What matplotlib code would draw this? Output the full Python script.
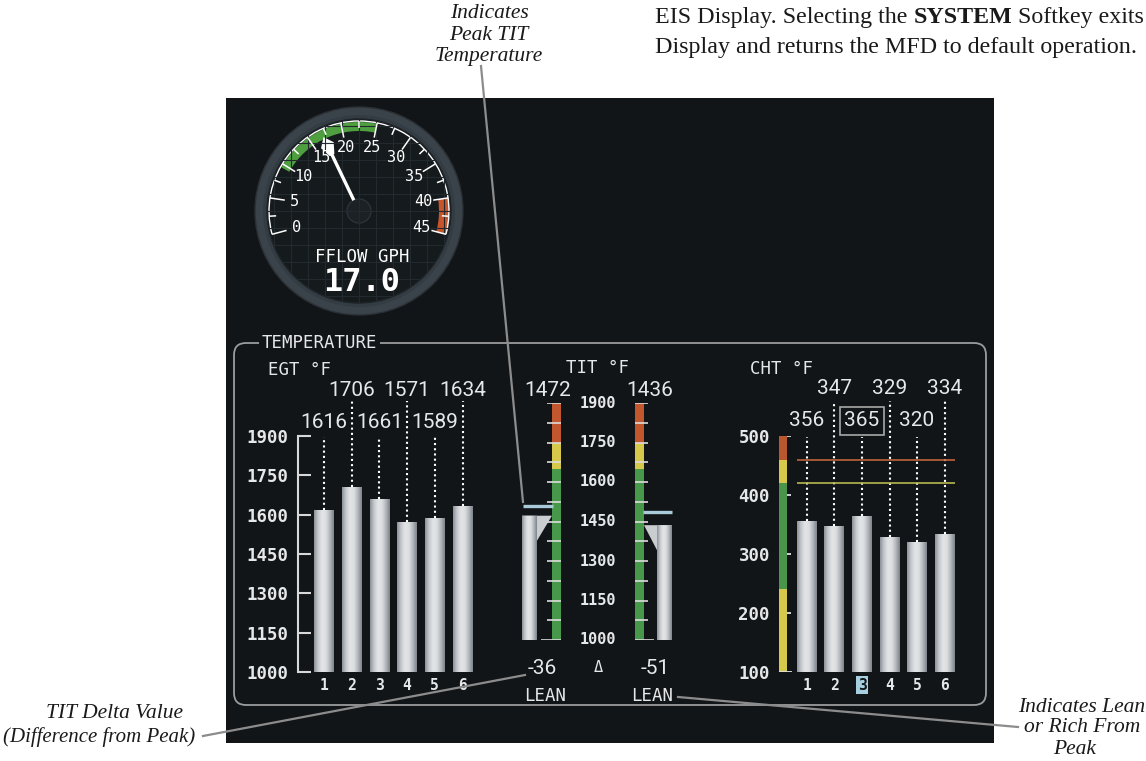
import numpy as np
import matplotlib
matplotlib.use("Agg")
import matplotlib.pyplot as plt
from matplotlib.patches import Rectangle, Circle, Wedge, Polygon, FancyBboxPatch, Arc
from matplotlib.colors import LinearSegmentedColormap
import matplotlib.transforms as mtransforms

W, H = 1146, 761

# ---------------- data ----------------
fflow_gph = 17.0
fflow_labels = [0, 5, 10, 15, 20, 25, 30, 35, 40, 45]
fflow_green = [9.5, 25]
fflow_red = [40, 45]

egt_cyl = [1, 2, 3, 4, 5, 6]
egt_vals = [1616, 1706, 1661, 1571, 1589, 1634]
egt_ticks = [1000, 1150, 1300, 1450, 1600, 1750, 1900]

tit_vals = [1472, 1436]
tit_peak = [1508, 1487]
tit_delta = [-36, -51]
tit_mode = ["LEAN", "LEAN"]
tit_ticks = [1000, 1150, 1300, 1450, 1600, 1750, 1900]
tit_bands = [[1000, 1650], [1650, 1750], [1750, 1900]]
tit_band_cols = ["#47984a", "#d5c84a", "#c2562e"]

cht_cyl = [1, 2, 3, 4, 5, 6]
cht_vals = [356, 347, 365, 329, 320, 334]
cht_ticks = [100, 200, 300, 400, 500]
cht_bands = [[100, 240], [240, 420], [420, 460], [460, 500]]
cht_band_cols = ["#d5c84a", "#4b944c", "#d5c84a", "#b9582f"]
cht_caution = 420
cht_warning = 460
cht_selected = 3

# ---------------- style ----------------
PANEL = "#111518"
FG = "#e6e7e8"
MONO = "DejaVu Sans Mono"
VALF = "Roboto"
LEADER = "#8c8c8c"
bar_cmap = LinearSegmentedColormap.from_list(
    "cyl", ["#8a9197", "#c6cacd", "#e3e5e7", "#dcdfe1", "#b3b8bc", "#7c838a"])
grad = np.linspace(0, 1, 64).reshape(1, -1)

fig = plt.figure(figsize=(W / 100, H / 100), dpi=100, facecolor="white")


def px_axes(x0, y0, x1, y1):
    a = fig.add_axes([x0 / W, 1 - y1 / H, (x1 - x0) / W, (y1 - y0) / H])
    a.patch.set_alpha(0)
    return a


def py_to(ax, py):
    # pixel row of the picture -> data y of ax
    d = bg.transData.transform((0, py))
    return ax.transData.inverted().transform(d)[1]


def shade(ax, patch, x0, x1, y0, y1):
    im = ax.imshow(grad, cmap=bar_cmap, extent=(x0, x1, y0, y1), aspect="auto",
                   origin="lower", interpolation="bicubic", zorder=patch.get_zorder() + 0.1)
    im.set_clip_path(patch)


# background / panel
bg = px_axes(0, 0, W, H)
bg.set_xlim(0, W)
bg.set_ylim(H, 0)
bg.axis("off")
bg.add_patch(Rectangle((226, 98), 768, 645, fc=PANEL, ec="none"))
bg.add_patch(FancyBboxPatch((234, 343), 752, 362, boxstyle="round,pad=0,rounding_size=12",
                            fc="none", ec="#9a9c9e", lw=1.3))
bg.text(262, 343, "TEMPERATURE", family=MONO, fontsize=12.5, color=FG, va="center",
        bbox=dict(fc=PANEL, ec="none", pad=2))
bg.text(268, 370, "EGT °F", family=MONO, fontsize=12.5, color=FG, va="center")
bg.text(598, 368, "TIT °F", family=MONO, fontsize=12.5, color=FG, va="center", ha="center")
bg.text(750, 369, "CHT °F", family=MONO, fontsize=12.5, color=FG, va="center")

# ---------------- fuel flow gauge ----------------
gx = px_axes(249, 101, 469, 321)
gx.set_xlim(-110, 110)
gx.set_ylim(-110, 110)
gx.axis("off")
gx.add_patch(Circle((0, 0), 104, fc="#3a434a", ec="#2a3035", lw=1))
gx.add_patch(Circle((0, 0), 96, fc="#333c43", ec="none"))
face = Circle((0, 0), 92, fc="#151a1d", ec="#1e2428", lw=1)
gx.add_patch(face)
for g in np.arange(-85, 90, 17):
    for ln in gx.plot([g, g], [-92, 92], color="#232a2f", lw=0.8) + \
            gx.plot([-92, 92], [g, g], color="#232a2f", lw=0.8):
        ln.set_clip_path(face)


def gang(v):
    return 195 - v * 210 / 45


gx.add_patch(Wedge((0, 0), 89, gang(fflow_green[1]), gang(fflow_green[0]), width=9,
                   fc="#4f9f40", ec="none"))
gx.add_patch(Wedge((0, 0), 90, gang(fflow_red[1]), gang(fflow_red[0]), width=10,
                   fc="#c8542a", ec="none"))
gx.add_patch(Arc((0, 0), 180, 180, theta1=gang(45), theta2=gang(0), color="white", lw=1))
for v in np.arange(0, 45.01, 2.5):
    a = np.radians(gang(v))
    r0 = 75 if v % 5 == 0 else 83
    gx.plot([r0 * np.cos(a), 90 * np.cos(a)], [r0 * np.sin(a), 90 * np.sin(a)],
            color="white", lw=1.1, solid_capstyle="butt")
for v in fflow_labels:
    a = np.radians(gang(v))
    gx.text(65 * np.cos(a), 65 * np.sin(a), str(v), family=MONO, fontsize=11,
            color="white", ha="center", va="center")

a = np.radians(gang(fflow_gph))
u = np.array([np.cos(a), np.sin(a)])
n = np.array([-u[1], u[0]])
gx.plot([12 * u[0], 64 * u[0]], [12 * u[1], 64 * u[1]], color="white", lw=2.4,
        solid_capstyle="butt")
gx.add_patch(Polygon([82 * u, 73 * u + 7 * n, 62 * u + 2.5 * n, 62 * u - 2.5 * n,
                      73 * u - 7 * n], fc="white", ec="none"))
gx.add_patch(Circle((0, 0), 12, fc="#1b2125", ec="#2c3338", lw=1))
gx.text(3, -46, "FFLOW GPH", family=MONO, fontsize=12.5, color="white", ha="center",
        va="center")
gx.text(3, -80, f"{fflow_gph:.1f}", family=MONO, fontsize=23, weight="bold", color="white",
        ha="center", va="baseline")

# ---------------- EGT ----------------
egt = px_axes(298, 436, 480, 672)
sp = 27.7
x0e = 1 - 26 / sp
egt.set_xlim(x0e, x0e + (480 - 298) / sp)
egt.set_ylim(1000, 1900)
ebars = egt.bar(egt_cyl, [v - 1000 for v in egt_vals], bottom=1000, width=0.7,
                color="#c4c8cb", zorder=2)
for s in ["top", "right", "bottom"]:
    egt.spines[s].set_visible(False)
egt.spines["left"].set_color("#d8d8d8")
egt.spines["left"].set_linewidth(1.5)
egt.set_yticks(egt_ticks, labels=[str(t) for t in egt_ticks], family=MONO, weight="bold")
egt.tick_params(axis="y", direction="in", length=9.5, width=1.5, color="#d8d8d8",
                labelcolor=FG, labelsize=12.5, pad=7)
egt.set_xticks(egt_cyl, labels=[str(c) for c in egt_cyl], family=MONO, weight="bold")
egt.tick_params(axis="x", length=0, labelcolor=FG, labelsize=10.5, pad=4)
egt.set_xlim(x0e, x0e + (480 - 298) / sp)
egt.set_ylim(1000, 1900)
ltr = mtransforms.blended_transform_factory(egt.transData, bg.transData)
for c, v, b in zip(egt_cyl, egt_vals, ebars):
    upper = c % 2 == 0
    egt.vlines(c, v, py_to(egt, 401 if upper else 437), colors="white", lw=1.5,
               linestyles=(0, (1, 1.5)), clip_on=False, zorder=1)
    egt.text(c, 390 if upper else 422, str(v), transform=ltr, family=VALF, fontsize=15,
             color=FG, ha="center", va="center")
    shade(egt, b, c - 0.35, c + 0.35, 1000, v)
egt.set_xlim(x0e, x0e + (480 - 298) / sp)
egt.set_ylim(1000, 1900)

# ---------------- TIT ----------------
tit = px_axes(515, 403, 680, 640)
tit.axis("off")
tit.set_xlim(515, 680)
tit.set_ylim(1000, 1900)
strip_x = [556.5, 639.5]
for (lo, hi), col in zip(tit_bands, tit_band_cols):
    tit.bar(strip_x, [hi - lo] * 2, bottom=lo, width=9, color=col, zorder=2)
for t in np.arange(tit_ticks[0], tit_ticks[-1] + 1, 75):
    lx = 541 if t == tit_ticks[0] else 547
    rx = 654 if t == tit_ticks[0] else 648
    tit.hlines(t, lx, 561, colors="#dcdcdc", lw=1.2, zorder=3)
    tit.hlines(t, 635, rx, colors="#dcdcdc", lw=1.2, zorder=3)
for t in tit_ticks:
    tit.text(598, t, str(t), family=MONO, weight="bold", fontsize=11, color=FG,
             ha="center", va="center")
flare = 95
body = [(522, 537), (657, 672)]
for i, v in enumerate(tit_vals):
    b0, b1 = body[i]
    if i == 0:
        pts = [(b0, 1000), (b0, v), (552, v), (b1, v - flare), (b1, 1000)]
        pk = (523, 553)
    else:
        pts = [(b1, 1000), (b1, v), (644, v), (b0, v - flare), (b0, 1000)]
        pk = (643, 672)
    poly = Polygon(pts, fc="#c9cdd0", ec="none", zorder=2)
    tit.add_patch(poly)
    shade(tit, poly, b0, b1, 1000, v)
    tit.hlines(tit_peak[i], pk[0], pk[1], colors="#a9cbd9", lw=2.4, zorder=4)
tit.set_xlim(515, 680)
tit.set_ylim(1000, 1900)
for x, v in zip([548, 650], tit_vals):
    bg.text(x, 390, str(v), family=VALF, fontsize=15, color=FG, ha="center", va="center")
for x, d in zip([542, 655], tit_delta):
    bg.text(x, 668, f"{d}", family=VALF, fontsize=15, color=FG, ha="center", va="center")
for x, m in zip([545, 652], tit_mode):
    bg.text(x, 696, m, family=MONO, fontsize=12.5, color=FG, ha="center", va="center")
bg.text(598, 667, "Δ", family=MONO, fontsize=11, color=FG, ha="center", va="center")

# ---------------- CHT ----------------
cht = px_axes(779, 436, 960, 672)
sc = 27.5
x0c = 1 - 28 / sc
cht.set_xlim(x0c, x0c + (960 - 779) / sc)
cht.set_ylim(100, 500)
for (lo, hi), col in zip(cht_bands, cht_band_cols):
    cht.bar(x0c, hi - lo, bottom=lo, width=8 / sc, align="edge", color=col, zorder=2)
for t in cht_ticks:
    x1 = x0c + (13 if t == cht_ticks[0] else 12) / sc
    xs = x0c if t == cht_ticks[0] else x0c + 8 / sc
    cht.hlines(t, xs, x1, colors="#e0e0e0", lw=1.3, zorder=3)
cbars = cht.bar(cht_cyl, [v - 100 for v in cht_vals], bottom=100, width=20 / sc,
                color="#c4c8cb", zorder=2)
hw = 10 / sc
cht.hlines(cht_warning, cht_cyl[0] - hw, cht_cyl[-1] + hw, colors="#c0643a", lw=1.2, zorder=3)
cht.hlines(cht_caution, cht_cyl[0] - hw, cht_cyl[-1] + hw, colors="#b9b84e", lw=1.2, zorder=3)
for s in ["top", "right", "bottom", "left"]:
    cht.spines[s].set_visible(False)
cht.set_yticks(cht_ticks, labels=[str(t) for t in cht_ticks], family=MONO, weight="bold")
cht.tick_params(axis="y", length=0, labelcolor=FG, labelsize=12.5, pad=6.5)
cht.set_xticks(cht_cyl, labels=[str(c) for c in cht_cyl], family=MONO, weight="bold")
cht.tick_params(axis="x", length=0, labelcolor=FG, labelsize=10.5, pad=4)
cht.set_xlim(x0c, x0c + (960 - 779) / sc)
cht.set_ylim(100, 500)
sel = cht.get_xticklabels()[cht_selected - 1]
sel.set_color(PANEL)
sel.set_bbox(dict(fc="#a6cfe0", ec="none", pad=1.2))
ctr = mtransforms.blended_transform_factory(cht.transData, bg.transData)
for c, v, b in zip(cht_cyl, cht_vals, cbars):
    upper = c % 2 == 0
    cht.vlines(c, v, py_to(cht, 401 if upper else 437), colors="white", lw=1.5,
               linestyles=(0, (1, 1.5)), clip_on=False, zorder=1)
    box = None
    if c == cht_selected:
        box = dict(boxstyle="square,pad=0.22", fc=PANEL, ec="#a8a8a8", lw=1.2)
    cht.text(c, 389 if upper else 421, str(v), transform=ctr, family=VALF, fontsize=15,
             color=FG, ha="center", va="center", bbox=box)
    shade(cht, b, c - hw, c + hw, 100, v)
cht.set_xlim(x0c, x0c + (960 - 779) / sc)
cht.set_ylim(100, 500)

# ---------------- callouts ----------------
ov = px_axes(0, 0, W, H)
ov.set_xlim(0, W)
ov.set_ylim(H, 0)
ov.axis("off")
ov.plot([481, 523], [66, 502], color=LEADER, lw=1.6)
ov.plot([203, 525], [736, 675], color=LEADER, lw=1.6)
ov.plot([678, 1018], [697, 727], color=LEADER, lw=1.6)

ann = dict(family="Liberation Serif", style="italic", fontsize=15.5, color="#1a1a1a",
           ha="center", va="center")
for y, s in zip([14, 35, 56], ["Indicates", "Peak TIT", "Temperature"]):
    ov.text(489, y, s, **ann)
ov.text(114, 713, "TIT Delta Value", **ann)
ov.text(99, 737, "(Difference from Peak)", **dict(ann, fontsize=15))
ov.text(1082, 707, "Indicates Lean", **ann)
ov.text(1082, 728, "or Rich From", **ann)
ov.text(1075, 749, "Peak", **ann)

fig.canvas.draw()
ren = fig.canvas.get_renderer()


def run_text(x, y, parts):
    for s, w in parts:
        t = ov.text(x, y, s, family="Liberation Serif", weight=w, fontsize=17.3,
                    color="#1a1a1a", va="baseline")
        bb = t.get_window_extent(ren)
        x = ov.transData.inverted().transform((bb.x1, bb.y0))[0] + 6


run_text(655, 23, [("EIS Display. Selecting the", "normal"), ("SYSTEM", "bold"),
                   ("Softkey exits", "normal")])
run_text(655, 53, [("Display and returns the MFD to default operation.", "normal")])

fig.savefig("out.png", dpi=100, facecolor="white")
